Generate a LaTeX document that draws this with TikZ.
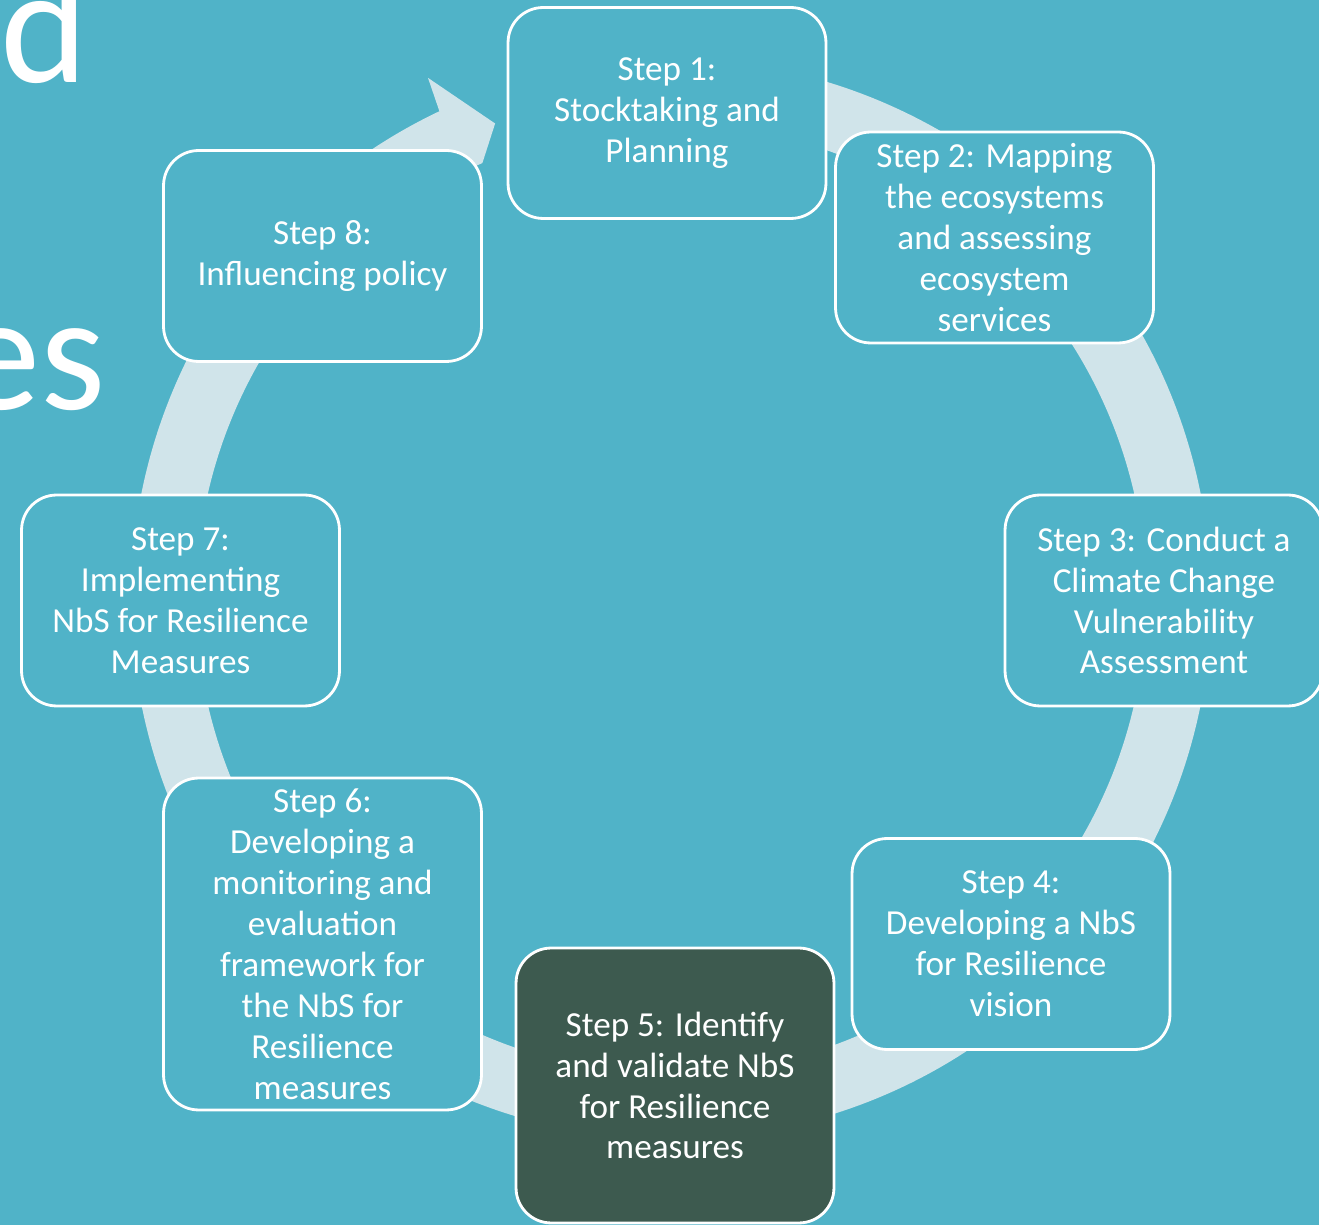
\documentclass[tikz,border=0pt]{standalone}
\usepackage{fontspec}
\setmainfont{Carlito}
\definecolor{slidebg}{HTML}{50B3C8}
\definecolor{ringcol}{HTML}{D0E4EA}
\definecolor{darkstep}{HTML}{3D5A4F}
\tikzset{
  stepbox/.style={draw=white, line width=1.6pt, rounded corners=20pt, fill=slidebg,
    text=white, align=center, inner sep=0pt, minimum width=6.36cm, minimum height=4.22cm,
    font=\fontsize{20}{23.3}\selectfont},
  hilite/.style={fill=darkstep},
  bigtitle/.style={text=white, inner sep=0pt, font=\fontsize{95}{110}\selectfont}
}
\begin{document}
\begin{tikzpicture}[x=0.02cm, y=0.02cm]
  % canvas
  \useasboundingbox (0,0) rectangle (1319,1225);
  \clip (0,0) rectangle (1319,1225);
  \fill[slidebg] (0,0) rectangle (1319,1225);

  % fragments of the slide title
  \node[bigtitle, anchor=base east] (tA) at (89,1142) {d};
  \node[bigtitle, anchor=base east] (tB) at (106,815) {es};

  % circular arrow behind the steps
  \coordinate (C) at (671,626);
  \fill[ringcol] ([shift={(C)}]103:540) arc[start angle=103, end angle=-244.6, radius=540]
    -- ([shift={(C)}]-245:575) -- ([shift={(C)}]-249.7:507) -- ([shift={(C)}]-246.6:475)
    arc[start angle=-246.6, end angle=103, radius=475] -- cycle;

  % steps
  \node[stepbox] (s1) at (667,1112) {Step 1:\\Stocktaking and\\Planning};
  \node[stepbox] (s2) at (994.5,987.5) {Step 2: Mapping\\the ecosystems\\and assessing\\ecosystem\\services};
  \node[stepbox] (s3) at (1164,624.5) {Step 3: Conduct a\\Climate Change\\Vulnerability\\Assessment};
  \node[stepbox] (s4) at (1011,281) {Step 4:\\Developing a NbS\\for Resilience\\vision};
  \node[stepbox, hilite, minimum height=5.5cm] (s5) at (675,139.5) {Step 5: Identify\\and validate NbS\\for Resilience\\measures};
  \node[stepbox, minimum height=6.64cm] (s6) at (322.5,281) {Step 6:\\Developing a\\monitoring and\\evaluation\\framework for\\the NbS for\\Resilience\\measures};
  \node[stepbox] (s7) at (180.5,624.5) {Step 7:\\Implementing\\NbS for Resilience\\Measures};
  \node[stepbox] (s8) at (322.5,969) {Step 8:\\Influencing policy};
\end{tikzpicture}
\end{document}
